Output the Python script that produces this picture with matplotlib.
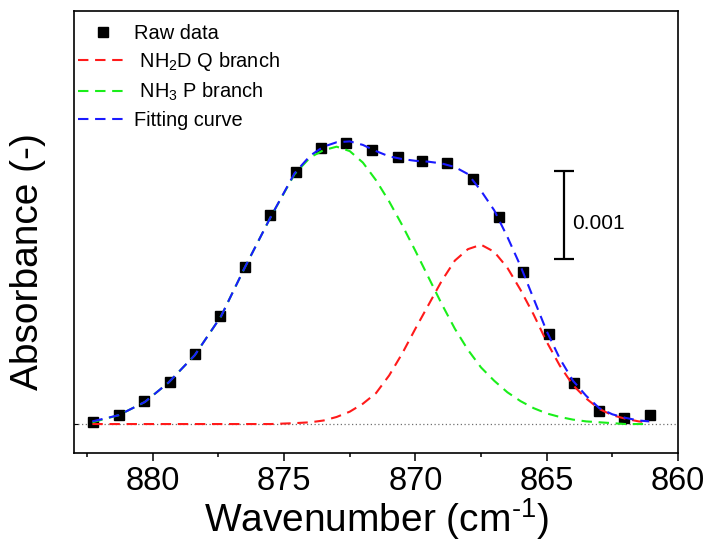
import numpy as np
from matplotlib import pyplot as plt
from matplotlib.ticker import MultipleLocator

plt.rcParams['font.family'] = ['Liberation Sans', 'DejaVu Sans']
plt.rcParams['mathtext.fontset'] = 'custom'
plt.rcParams['mathtext.rm'] = 'Liberation Sans'
plt.rcParams['mathtext.it'] = 'Liberation Sans:italic'
plt.rcParams['mathtext.bf'] = 'Liberation Sans:bold'

# raw data (wavenumber in cm-1, absorbance)
wn_raw = [882.27, 881.29, 880.33, 879.36, 878.40, 877.44, 876.47, 875.52,
          874.56, 873.60, 872.65, 871.67, 870.68, 869.76, 868.79, 867.79,
          866.83, 865.89, 864.93, 863.96, 863.01, 862.04, 861.07]
abs_raw = [0.026, 0.105, 0.260, 0.476, 0.789, 1.220, 1.778, 2.364,
           2.857, 3.129, 3.186, 3.103, 3.020, 2.982, 2.956, 2.778,
           2.348, 1.718, 1.023, 0.461, 0.151, 0.071, 0.099]

# fitted curves
wn_fit = [882.3, 881.3, 880.3, 879.4, 878.4, 877.4, 876.5, 875.5, 874.6,
          874.0, 873.5, 873.0, 872.5, 872.0, 871.5, 871.0, 870.5, 870.0,
          869.5, 869.0, 868.5, 868.0, 867.5, 867.0, 866.5, 866.0, 865.5,
          865.0, 864.5, 864.0, 863.5, 863.0, 862.5, 862.0, 861.5, 861.1]
q_branch = [0, 0, 0, 0, 0, 0, 0, 0, 0.01,
            0.02, 0.04, 0.08, 0.14, 0.23, 0.35, 0.55, 0.80, 1.08,
            1.35, 1.62, 1.85, 1.98, 2.03, 1.95, 1.77, 1.52, 1.24,
            0.93, 0.66, 0.44, 0.29, 0.17, 0.10, 0.06, 0.03, 0.02]
p_branch = [0.02, 0.10, 0.25, 0.47, 0.78, 1.22, 1.77, 2.35, 2.83,
            3.02, 3.10, 3.14, 3.09, 2.96, 2.76, 2.52, 2.25, 1.96,
            1.66, 1.36, 1.08, 0.84, 0.64, 0.49, 0.36, 0.26, 0.18,
            0.12, 0.08, 0.05, 0.03, 0.02, 0.01, 0.0, 0.0, 0.0]
fit_curve = [0.03, 0.10, 0.25, 0.47, 0.78, 1.22, 1.77, 2.35, 2.84,
             3.04, 3.14, 3.19, 3.20, 3.16, 3.09, 3.03, 3.00, 2.98,
             2.97, 2.95, 2.91, 2.83, 2.64, 2.42, 2.12, 1.79, 1.42,
             1.05, 0.74, 0.49, 0.32, 0.18, 0.11, 0.07, 0.04, 0.03]

s = 1e-3  # values above are in units of 0.001
abs_raw = np.array(abs_raw) * s
q_branch = np.array(q_branch) * s
p_branch = np.array(p_branch) * s
fit_curve = np.array(fit_curve) * s

fig = plt.figure(figsize=(7.1, 5.46), dpi=100)
ax = fig.add_axes([0.1042, 0.1703, 0.8508, 0.8097])

dash = (0, (5, 3.2))
ax.axhline(0, color='#707070', ls=(0, (1, 2)), lw=0.9, zorder=1)
ax.plot(wn_raw, abs_raw, 's', color='black', ms=7, label='Raw data', zorder=2)
ax.plot(wn_fit, q_branch, color='#ff1a1a', ls=dash, lw=1.5, label=' NH$_2$D Q branch', zorder=3)
ax.plot(wn_fit, p_branch, color='#1aee1a', ls=dash, lw=1.5, label=' NH$_3$ P branch', zorder=3)
ax.plot(wn_fit, fit_curve, color='#1a1aff', ls=dash, lw=1.5, label='Fitting curve', zorder=4)

# scale bar
ax.errorbar([864.33], [2.368e-3], yerr=0.0005, color='black', lw=1.6,
            capsize=7.5, capthick=1.6)
ax.text(864.03, 2.27e-3, '0.001', fontsize=15, va='center', ha='left')

ax.set_xlim(883, 860)
ax.set_ylim(-0.000328, 0.004677)
ax.xaxis.set_major_locator(MultipleLocator(5))
ax.xaxis.set_minor_locator(MultipleLocator(2.5))
ax.set_yticks([0])
ax.set_yticklabels([])
ax.tick_params(axis='x', which='major', direction='out', length=6, width=1.1,
               labelsize=23.5, pad=3)
ax.tick_params(axis='x', which='minor', direction='out', length=3, width=1.1)
ax.tick_params(axis='y', direction='in', length=3, width=0.8)
for sp in ax.spines.values():
    sp.set_linewidth(1.2)

ax.set_xlabel(r'Wavenumber (cm$^{\text{-1}}$)', fontsize=28, labelpad=0)
ax.set_ylabel('Absorbance (-)', fontsize=28)
ax.yaxis.set_label_coords(-0.047, 0.434)

leg = ax.legend(loc='upper left', bbox_to_anchor=(0.006, 0.971), frameon=False,
                fontsize=14.4, handlelength=2.5, handletextpad=0.3,
                labelspacing=0.38, borderaxespad=0, borderpad=0, numpoints=1)

fig.savefig('out.png', dpi=100)
